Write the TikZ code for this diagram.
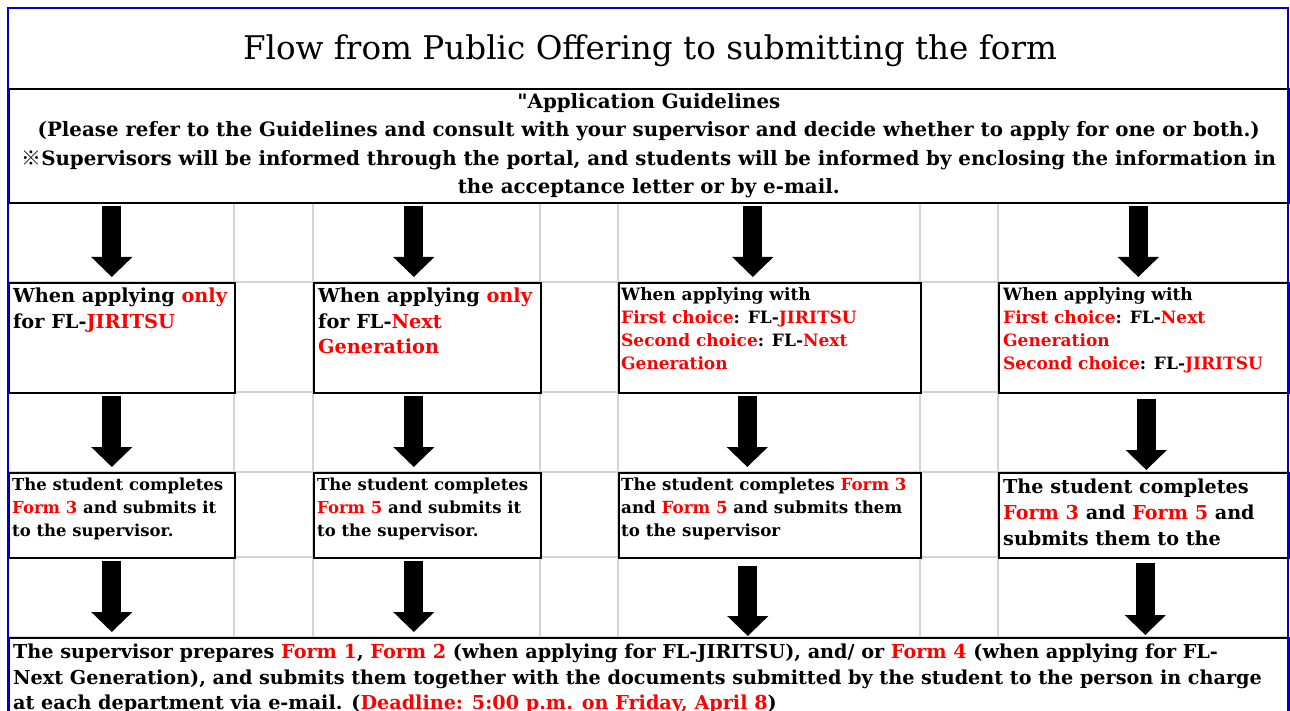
\documentclass[tikz,border=0pt]{standalone}
\usepackage{fontspec}
\setmainfont{DejaVu Serif}[Ligatures=TeXOff]
\newfontfamily\cjk{Noto Sans CJK JP}
\usetikzlibrary{calc, arrows.meta}

\definecolor{gridgray}{RGB}{212,212,212}
\definecolor{frameblue}{RGB}{0,0,205}
\newcommand{\redtxt}[1]{\textcolor{red}{#1}}

\begin{document}
\begin{tikzpicture}[
    x=1pt, y=-1pt,
    bx/.style={draw=black, line width=1.6pt, fill=white, anchor=north west, inner sep=0pt},
    txt/.style={anchor=north west, inner sep=0pt, align=left, font=\bfseries},
    blk/.style={line width=19pt, -{Triangle[width=40pt, length=20pt]}},
    gridln/.style={draw=gridgray, line width=1.3pt}
  ]
  \useasboundingbox (0,0) rectangle (1290,711);
  \clip (0,0) rectangle (1290,711);
  % sheet grid
  \foreach \x in {234,313,540,618,920,998} {
    \draw[gridln] (\x,202) -- (\x,711);
  }
  \foreach \y in {282,392,472,557,637} {
    \draw[gridln] (8,\y) -- (1288,\y);
  }

  % title and guidelines
  \node[anchor=base, inner sep=0pt, font=\fontsize{32.6}{38}\selectfont] (title) at (650,60)
    {Flow from Public Offering to submitting the form};
  \node[bx, minimum width=1280pt, minimum height=114pt] (gl) at (8,88) {};
  \node[txt, anchor=north, align=center, font=\bfseries\fontsize{19.8}{28.5}\selectfont] (glt)
    at ($(gl.north)+(0,5)$) {"Application Guidelines\\
    (Please refer to the Guidelines and consult with your supervisor and decide whether to apply for one or both.)\\
    {\cjk ※}Supervisors will be informed through the portal, and students will be informed by enclosing the information in\\
    the acceptance letter or by e-mail.};

  % choice boxes
  \node[bx, minimum width=226pt, minimum height=110pt] (a1) at (8,282) {};
  \node[bx, minimum width=227pt, minimum height=110pt] (a2) at (313,282) {};
  \node[bx, minimum width=302pt, minimum height=110pt] (a3) at (618,282) {};
  \node[bx, minimum width=290pt, minimum height=110pt] (a4) at (998,282) {};
  \node[txt, font=\bfseries\fontsize{19.3}{25.5}\selectfont] (a1t) at ($(a1.north west)+(5,6)$)
    {When applying \redtxt{only}\\for FL-\redtxt{JIRITSU}};
  \node[txt, font=\bfseries\fontsize{19.3}{25.5}\selectfont] (a2t) at ($(a2.north west)+(5,6)$)
    {When applying \redtxt{only}\\for FL-\redtxt{Next}\\\redtxt{Generation}};
  \node[txt, font=\bfseries\fontsize{17}{23}\selectfont] (a3t) at ($(a3.north west)+(3,5)$)
    {When applying with\\\redtxt{First choice}: FL-\redtxt{JIRITSU}\\\redtxt{Second choice}: FL-\redtxt{Next}\\\redtxt{Generation}};
  \node[txt, font=\bfseries\fontsize{17}{23}\selectfont] (a4t) at ($(a4.north west)+(5,5)$)
    {When applying with\\\redtxt{First choice}: FL-\redtxt{Next}\\\redtxt{Generation}\\\redtxt{Second choice}: FL-\redtxt{JIRITSU}};

  % student boxes
  \node[bx, minimum width=226pt, minimum height=85pt] (s1) at (8,472) {};
  \node[bx, minimum width=227pt, minimum height=85pt] (s2) at (313,472) {};
  \node[bx, minimum width=302pt, minimum height=85pt] (s3) at (618,472) {};
  \node[bx, minimum width=290pt, minimum height=85pt] (s4) at (998,472) {};
  \node[txt, font=\bfseries\fontsize{16.5}{23}\selectfont] (s1t) at ($(s1.north west)+(4,6)$)
    {The student completes\\\redtxt{Form 3} and submits it\\to the supervisor.};
  \node[txt, font=\bfseries\fontsize{16.5}{23}\selectfont] (s2t) at ($(s2.north west)+(4,6)$)
    {The student completes\\\redtxt{Form 5} and submits it\\to the supervisor.};
  \node[txt, font=\bfseries\fontsize{16.7}{23}\selectfont] (s3t) at ($(s3.north west)+(3,6)$)
    {The student completes \redtxt{Form 3}\\and \redtxt{Form 5} and submits them\\to the supervisor};
  \node[txt, font=\bfseries\fontsize{19.2}{26}\selectfont] (s4t) at ($(s4.north west)+(5,7)$)
    {The student completes\\\redtxt{Form 3} and \redtxt{Form 5} and\\submits them to the};

  % supervisor box
  \node[bx, minimum width=1280pt, minimum height=120pt] (fin) at (8,637) {};
  \node[txt, font=\bfseries\fontsize{19.2}{25.5}\selectfont] (fint) at ($(fin.north west)+(5,7)$)
    {The supervisor prepares \redtxt{Form 1}, \redtxt{Form 2} (when applying for FL-JIRITSU), and/ or \redtxt{Form 4} (when applying for FL-\\
    Next Generation), and submits them together with the documents submitted by the student to the person in charge\\
    at each department via e-mail. (\redtxt{Deadline: 5:00 p.m. on Friday, April 8})};

  % arrows
  \foreach \i/\dx in {1/-10, 2/-13.5, 3/-17, 4/-5.5} {
    \draw[blk] ($(gl.south -| a\i.north)+(\dx,2)$) -- ($(a\i.north)+(\dx,-5)$);
  }
  \foreach \i/\dx/\dt/\db in {1/-10/2/-5, 2/-13.5/2/-5, 3/-22.5/2/-5, 4/2.5/5/-2} {
    \draw[blk] ($(a\i.south)+(\dx,\dt)$) -- ($(s\i.north)+(\dx,\db)$);
  }
  \foreach \i/\dx/\dt/\db in {1/-10/2/-5, 2/-13.5/2/-5, 3/-22/7/-1, 4/1.5/4/-2} {
    \draw[blk] ($(s\i.south)+(\dx,\dt)$) -- ($(fin.north -| s\i.north)+(\dx,\db)$);
  }

  % sheet frame
  \draw[frameblue, line width=1.5pt] (8,760) -- (8,8) -- (1288,8) -- (1288,760);
\end{tikzpicture}
\end{document}
